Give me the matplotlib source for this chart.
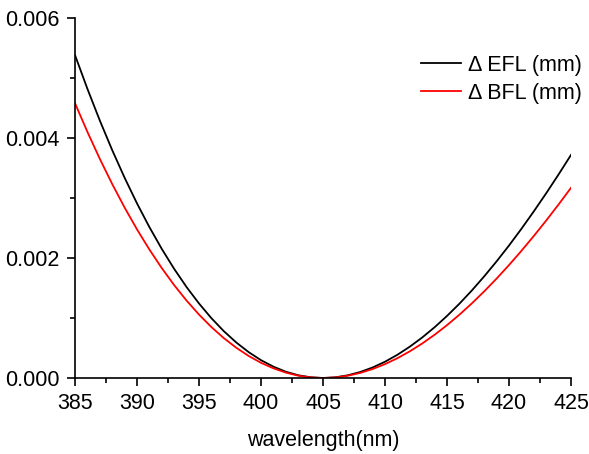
import matplotlib
matplotlib.use("Agg")
import matplotlib.pyplot as plt
from matplotlib.ticker import MultipleLocator, FormatStrFormatter

plt.rcParams['font.family'] = ['Liberation Sans', 'DejaVu Sans']

wavelength = list(range(385, 426))
efl = [0.005382, 0.004820, 0.004292, 0.003798, 0.003338, 0.002910, 0.002515,
       0.002151, 0.001818, 0.001515, 0.001242, 0.000997, 0.000781, 0.000593,
       0.000432, 0.000297, 0.000189, 0.000105, 0.000046, 0.000012, 0.0,
       0.000011, 0.000045, 0.000100, 0.000175, 0.000271, 0.000387, 0.000522,
       0.000675, 0.000846, 0.001034, 0.001238, 0.001458, 0.001694, 0.001944,
       0.002208, 0.002486, 0.002777, 0.003079, 0.003393, 0.003718]
bfl = [0.004580, 0.004102, 0.003653, 0.003233, 0.002841, 0.002477, 0.002141,
       0.001831, 0.001547, 0.001290, 0.001057, 0.000849, 0.000665, 0.000505,
       0.000368, 0.000253, 0.000161, 0.000090, 0.000039, 0.000010, 0.0,
       0.0000096, 0.0000381, 0.0000848, 0.0001494, 0.0002312, 0.0003298,
       0.0004445, 0.0005749, 0.0007205, 0.0008806, 0.0010549, 0.0012428,
       0.0014436, 0.0016570, 0.0018823, 0.0021190, 0.0023667, 0.0026248,
       0.0028928, 0.0031700]
labels = ["\u0394 EFL (mm)", "\u0394 BFL (mm)"]

fig = plt.figure(figsize=(5.89, 4.54), dpi=100)
ax = fig.add_axes([75/589, 76/454, 496/589, 360/454])
ax.plot(wavelength, efl, color='black', lw=1.3, label=labels[0])
ax.plot(wavelength, bfl, color='red', lw=1.3, label=labels[1])
ax.set_xlim(385, 425)
ax.set_ylim(0, 0.006)
ax.xaxis.set_major_locator(MultipleLocator(5))
ax.xaxis.set_minor_locator(MultipleLocator(2.5))
ax.yaxis.set_major_locator(MultipleLocator(0.002))
ax.yaxis.set_minor_locator(MultipleLocator(0.001))
ax.yaxis.set_major_formatter(FormatStrFormatter('%.3f'))
for s in ['top', 'right']:
    ax.spines[s].set_visible(False)
for s in ['left', 'bottom']:
    ax.spines[s].set_linewidth(1.2)
ax.tick_params(which='major', direction='out', length=6, width=1.2,
               labelsize=15.5, pad=5)
ax.tick_params(which='minor', direction='out', length=3.5, width=1.2)
ax.set_xlabel('wavelength(nm)', fontsize=15.5, labelpad=11)
ax.legend(loc='upper right', bbox_to_anchor=(1.022, 0.898), frameon=False,
          fontsize=15.5, handlelength=1.85, handletextpad=0.33,
          labelspacing=0.33, borderpad=0, borderaxespad=0)
fig.savefig('out.png', dpi=100)
